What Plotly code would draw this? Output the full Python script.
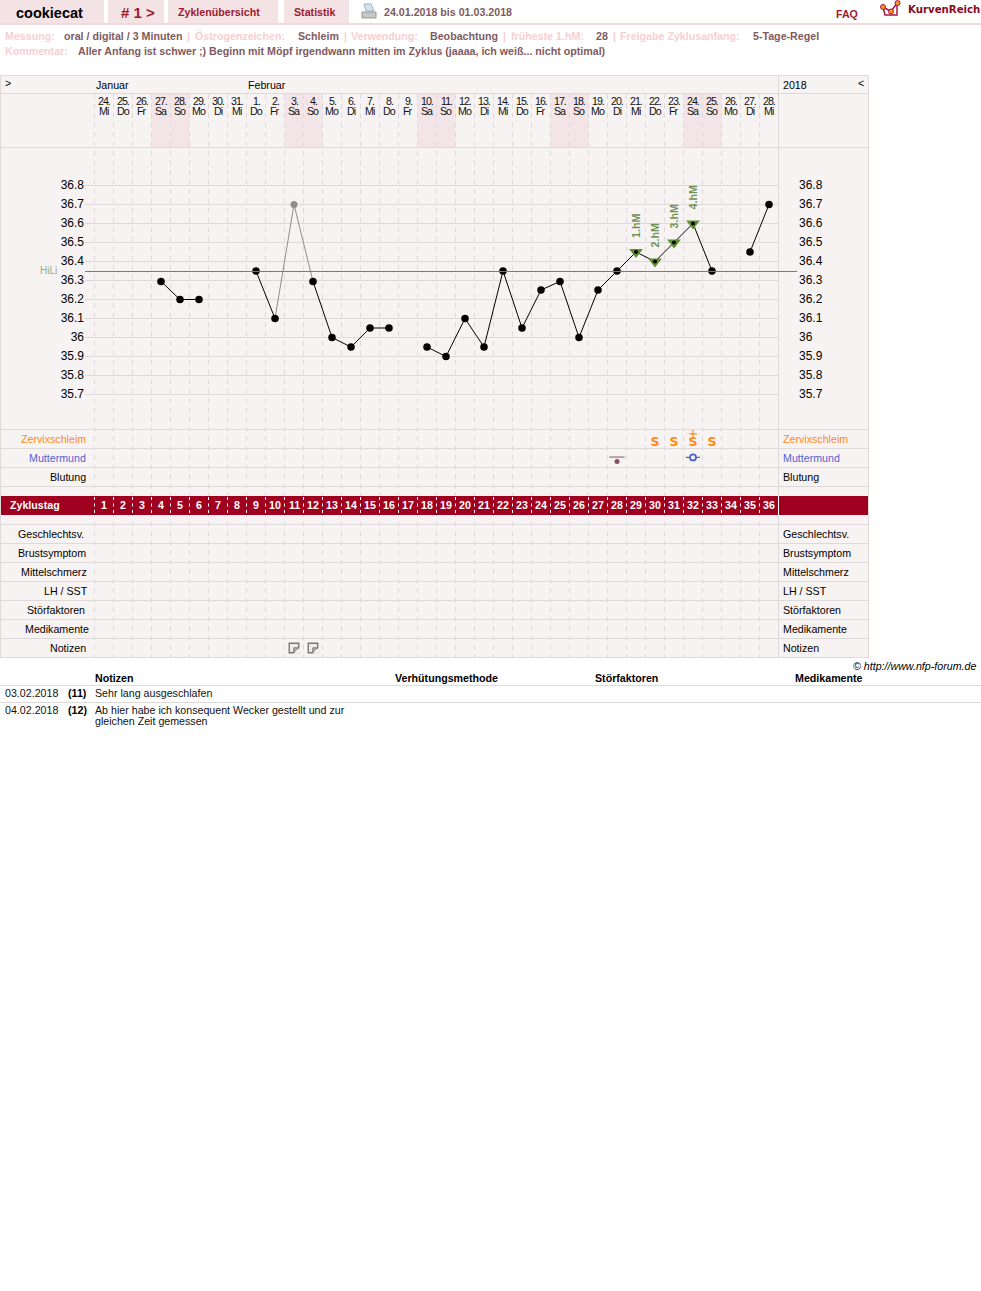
import plotly.graph_objects as go

W, H = 981, 1291
FONT = "Liberation Sans"
BASE = 10.67

# ---------- data ----------
date_labels = ["24.","25.","26.","27.","28.","29.","30.","31.","1.","2.","3.","4.","5.","6.","7.","8.","9.","10.",
               "11.","12.","13.","14.","15.","16.","17.","18.","19.","20.","21.","22.","23.","24.","25.","26.","27.","28."]
weekday_labels = ["Mi","Do","Fr","Sa","So","Mo","Di","Mi","Do","Fr","Sa","So","Mo","Di","Mi","Do","Fr","Sa",
                  "So","Mo","Di","Mi","Do","Fr","Sa","So","Mo","Di","Mi","Do","Fr","Sa","So","Mo","Di","Mi"]
cycle_days = list(range(1, 37))
temperature = [None,None,None,36.295,36.2,36.2,None,None,36.35,36.1,None,36.295,36.0,35.95,36.05,36.05,None,35.95,
               35.9,36.1,35.95,36.35,36.05,36.25,36.295,36.0,36.25,36.35,36.45,36.4,36.5,36.6,36.35,None,36.45,36.7]
excluded_days = [10, 11, 12]
excluded_temp = [36.1, 36.7, 36.295]
coverline = 36.3474
hm_days = [29, 30, 31, 32]
hm_temp = [36.45, 36.4, 36.5, 36.6]
hm_labels = ["1.hM", "2.hM", "3.hM", "4.hM"]
temp_ticks = [36.8,36.7,36.6,36.5,36.4,36.3,36.2,36.1,36.0,35.9,35.8,35.7]
temp_tick_labels = ["36.8","36.7","36.6","36.5","36.4","36.3","36.2","36.1","36","35.9","35.8","35.7"]
mucus_days = [30, 31, 32, 33]
mucus_labels = ["S", "S", "S", "S"]
mucus_plus_days = [32]
cervix_low_days = [28]
cervix_open_days = [32]
note_days = [11, 12]
upper_rows = ["Zervixschleim", "Muttermund", "Blutung"]
lower_rows = ["Geschlechtsv.", "Brustsymptom", "Mittelschmerz", "LH / SST", "Störfaktoren", "Medikamente", "Notizen"]

C_PANEL = "#f8f3f3"; C_LINE = "#dedada"; C_WE = "#f3e5e7"; C_RED = "#a00020"; C_TAB = "#f3e3e5"
C_DARK = "#9f1a2e"; C_MUTE = "#7f5a60"; C_LIGHT = "#f7cfd2"; C_GREEN = "#64923a"; C_HM = "#6f9356"
C_OR = "#ff8a14"; C_BL = "#4f63cf"

px = lambda v: v / W
py = lambda v: 1 - v / H
PX_TOP, PX_BOTTOM = 148, 429.5
val = lambda p: 36.8 - (p - 185.5) / 190
X0, X1 = 85, 778.5

shapes, ann = [], []


def rect(x0, y0, x1, y1, color, layer="below"):
    shapes.append(dict(type="rect", xref="paper", yref="paper", x0=px(x0), x1=px(x1), y0=py(y0), y1=py(y1),
                       fillcolor=color, line_width=0, layer=layer))


def hline(y, x0, x1, color=C_LINE, width=1, layer="below"):
    shapes.append(dict(type="line", xref="paper", yref="paper", x0=px(x0), x1=px(x1), y0=py(y), y1=py(y),
                       line=dict(color=color, width=width), layer=layer))


def vline(x, y0, y1, color=C_LINE, width=1, layer="below"):
    shapes.append(dict(type="line", xref="paper", yref="paper", x0=px(x), x1=px(x), y0=py(y0), y1=py(y1),
                       line=dict(color=color, width=width), layer=layer))


def path(points, color, width=1, fill=None, closed=False):
    d = "M" + " L".join(f"{px(a):.5f},{py(b):.5f}" for a, b in points) + (" Z" if closed else "")
    shapes.append(dict(type="path", xref="paper", yref="paper", path=d, layer="above",
                       line=dict(color=color, width=width), fillcolor=fill or "rgba(0,0,0,0)"))


def text(x, y, s, size=BASE, color="#000", bold=False, anchor="left", family=FONT, italic=False):
    if bold:
        s = f"<b>{s}</b>"
    if italic:
        s = f"<i>{s}</i>"
    ann.append(dict(xref="paper", yref="paper", x=px(x), y=py(y), text=s, showarrow=False, xanchor=anchor,
                    yanchor="middle", font=dict(family=family, size=size, color=color), borderpad=0, borderwidth=0))


# ---------- header ----------
for a, b in [(0, 104), (108, 164), (168, 278), (284, 349)]:
    rect(a, 0, b, 23, C_TAB)
rect(0, 23, W, 25, "#f3d9dc")
text(49.5, 13, "cookiecat", 14.5, "#000", True, "center")
text(138, 12.5, "# 1 &gt;", 15, C_DARK, True, "center")
text(218.5, 12.5, "Zyklenübersicht", BASE, C_DARK, True, "center")
text(314.5, 12.5, "Statistik", BASE, C_DARK, True, "center")
text(384, 12.5, "24.01.2018 bis 01.03.2018", BASE, C_MUTE, True)
text(836, 14, "FAQ", BASE, C_DARK, True)
text(908, 10, "KurvenReich", 10.2, "#8a0a1c", True, family="DejaVu Sans")

# printer icon
path([(364, 4), (371, 4), (374, 11), (366, 11)], "#a3b0bb", 1, "#d5e4ee", True)
path([(362, 12), (376, 12), (376, 18), (362, 18)], "#999999", 1, "#c6c6c6", True)
# logo
path([(883, 7), (885, 15), (897, 15), (897, 4)], "#a8144c", 1.5)
path([(883, 7), (891, 11.5), (897, 3)], "#a8144c", 1.5)
for cx, cy in [(883, 7), (891, 11.5), (897.5, 3)]:
    shapes.append(dict(type="circle", xref="paper", yref="paper", x0=px(cx - 2.5), x1=px(cx + 2.5),
                       y0=py(cy - 2.5), y1=py(cy + 2.5), fillcolor="#f59a1a", line=dict(color="#a8144c", width=1),
                       layer="above"))

for x, s, c in [(5, "Messung:", C_LIGHT), (64, "oral / digital / 3 Minuten", C_MUTE), (187, "|", C_LIGHT),
                (195, "Östrogenzeichen:", C_LIGHT), (298, "Schleim", C_MUTE), (344, "|", C_LIGHT),
                (351, "Verwendung:", C_LIGHT), (430, "Beobachtung", C_MUTE), (503, "|", C_LIGHT),
                (511, "früheste 1.hM:", C_LIGHT), (596, "28", C_MUTE), (613, "|", C_LIGHT),
                (620, "Freigabe Zyklusanfang:", C_LIGHT), (753, "5-Tage-Regel", C_MUTE)]:
    text(x, 36, s, BASE, c, True)
text(5, 51, "Kommentar:", BASE, C_LIGHT, True)
text(78, 51, "Aller Anfang ist schwer ;) Beginn mit Möpf irgendwann mitten im Zyklus (jaaaa, ich weiß... nicht optimal)",
     BASE, C_MUTE, True)

# ---------- panel ----------
rect(0.5, 75.5, 868.5, 657.5, C_PANEL)
for d, w in zip(cycle_days, weekday_labels):
    if w in ("Sa", "So"):
        shapes.append(dict(type="rect", xref="x", yref="paper", x0=d - .5, x1=d + .5, y0=py(94), y1=py(148),
                           fillcolor=C_WE, line_width=0, layer="below"))
for y in [75.5, 93.5, 147.5, 429.5, 448.5, 467.5, 486.5, 524.5, 543.5, 562.5, 581.5, 600.5, 619.5, 638.5, 657.5]:
    hline(y, 0, 868.5)
vline(0.5, 75.5, 657.5)
vline(868.5, 75.5, 657.5)
vline(778.5, 75.5, 657.5)
for d in cycle_days[:-1] + [0]:
    shapes.append(dict(type="line", xref="x", yref="paper", x0=d + .5, x1=d + .5, y0=py(94), y1=py(657),
                       line=dict(color=C_LINE, width=1, dash="5px,4.5px"), layer="below"))
rect(1, 496, 868, 515, C_RED, "above")
for d in cycle_days[:-1] + [0]:
    shapes.append(dict(type="line", xref="x", yref="paper", x0=d + .5, x1=d + .5, y0=py(497), y1=py(515),
                       line=dict(color="#ffffff", width=1, dash="3px,3.5px"), layer="above"))
vline(778.5, 496, 515, "#ffffff", 1, "above")
# coverline
shapes.append(dict(type="line", xref="paper", yref="y", x0=px(85), x1=px(797), y0=coverline, y1=coverline,
                   line=dict(color=C_GREEN, width=1), layer="above"))

text(96, 85, "Januar", BASE)
text(248, 85, "Februar", BASE)
text(783, 85, "2018", BASE)
text(5, 83, "&gt;", BASE)
text(858, 83, "&lt;", BASE)
text(40, 270.5, "HiLi", 10, "#8fae7c")

for d, a, b in zip(cycle_days, date_labels, weekday_labels):
    for y, s in ((101, a), (111, b)):
        ann.append(dict(xref="x", yref="paper", x=d, y=py(y), xshift=0,
                        text=f'<span style="letter-spacing:-1px">{s}</span>', showarrow=False, xanchor="center",
                        yanchor="middle", font=dict(family=FONT, size=BASE, color="#111"), borderpad=0))
    ann.append(dict(xref="x", yref="paper", x=d, y=py(505), text=f"<b>{d}</b>", showarrow=False, xanchor="center",
                    yanchor="middle", font=dict(family=FONT, size=BASE, color="#fff"), borderpad=0))

text(10, 505, "Zyklustag", BASE, "#fff", True)
for name, y, xr, c in zip(upper_rows, [439, 458, 477], [85.5, 86, 86], [C_OR, C_BL, "#000"]):
    text(xr, y, name, BASE, c, anchor="right")
    text(783, y, name, BASE, c)
for name, y, xr in zip(lower_rows, [534, 553, 572, 591, 610, 629, 648], [84, 86, 87, 88, 85, 89, 86]):
    text(xr, y, name, BASE, "#000", anchor="right")
    text(783, y, name, BASE, "#000")

for d, y, lab in zip(hm_days, hm_temp, hm_labels):
    ann.append(dict(xref="x", yref="y", x=d, y=y, yshift=26, xshift=0, text=f"<b>{lab}</b>", textangle=-90,
                    showarrow=False, font=dict(family=FONT, size=BASE, color=C_HM), xanchor="center",
                    yanchor="middle", borderpad=0))

# ---------- table ----------
for x, s in [(95, "Notizen"), (395, "Verhütungsmethode"), (595, "Störfaktoren"), (795, "Medikamente")]:
    text(x, 678, s, BASE, "#000", True)
hline(685.5, 0, W)
hline(702.5, 0, W)
text(976, 665.5, "© http://www.nfp-forum.de", BASE, "#000", anchor="right", italic=True)
text(5, 693, "03.02.2018", BASE, "#111")
text(68, 693, "(11)", BASE, "#000", True)
text(95, 693, "Sehr lang ausgeschlafen", BASE, "#111")
text(5, 710, "04.02.2018", BASE, "#111")
text(68, 710, "(12)", BASE, "#000", True)
text(95, 710, "Ab hier habe ich konsequent Wecker gestellt und zur", BASE, "#111")
text(95, 721, "gleichen Zeit gemessen", BASE, "#111")

# ---------- traces ----------
fig = go.Figure()
fig.add_trace(go.Scatter(x=excluded_days, y=excluded_temp, mode="lines", line=dict(color="#8e8e8e", width=1),
                         hoverinfo="skip"))
fig.add_trace(go.Scatter(x=cycle_days, y=temperature, mode="lines", connectgaps=False,
                         line=dict(color="#000", width=1), hoverinfo="skip"))
fig.add_trace(go.Scatter(x=hm_days, y=hm_temp, mode="markers", hoverinfo="skip",
                         marker=dict(symbol="triangle-down", size=12, color="#5f9030", line_width=0)))
sizes = [4 if d in hm_days else 7.5 for d in cycle_days]
fig.add_trace(go.Scatter(x=cycle_days, y=temperature, mode="markers", hoverinfo="skip",
                         marker=dict(color="#000", size=sizes, opacity=1, line_width=0)))
fig.add_trace(go.Scatter(x=excluded_days[1:2], y=excluded_temp[1:2], mode="markers", hoverinfo="skip",
                         marker=dict(color="#8e8e8e", size=7, line_width=0)))
# right-hand temperature axis carrier
fig.add_trace(go.Scatter(x=[1], y=[36.8], yaxis="y2", mode="markers", marker=dict(opacity=0), hoverinfo="skip"))

# upper rows: row axis, one unit per row (0 = top edge)
fig.add_trace(go.Scatter(x=mucus_days, y=[0.72] * len(mucus_days), yaxis="y3", mode="text", text=mucus_labels,
                         textposition="middle center", hoverinfo="skip",
                         textfont=dict(family="DejaVu Sans", size=12.5, color=C_OR, weight="bold")))
fig.add_trace(go.Scatter(x=mucus_plus_days, y=[0.23], yaxis="y3", mode="markers", hoverinfo="skip",
                         marker=dict(symbol="cross-thin", size=5.5, line=dict(color=C_OR, width=1.2))))
fig.add_trace(go.Scatter(x=cervix_low_days, y=[1.45], yaxis="y3", mode="markers", hoverinfo="skip",
                         marker=dict(symbol="line-ew", size=11, line=dict(color="#85545a", width=1))))
fig.add_trace(go.Scatter(x=cervix_low_days, y=[1.68], yaxis="y3", mode="markers", hoverinfo="skip",
                         marker=dict(size=5, color="#85545a", line_width=0)))
fig.add_trace(go.Scatter(x=cervix_open_days, y=[1.47], yaxis="y3", mode="markers", hoverinfo="skip",
                         marker=dict(symbol="line-ew", size=10, line=dict(color=C_BL, width=1.2))))
fig.add_trace(go.Scatter(x=cervix_open_days, y=[1.47], yaxis="y3", mode="markers", hoverinfo="skip",
                         marker=dict(size=6, color="#f8f3f3", line=dict(color=C_BL, width=1.8))))

# lower rows: note icons with a folded lower-right corner
fig.add_trace(go.Scatter(x=note_days, y=[6.5] * len(note_days), yaxis="y4", mode="markers", hoverinfo="skip",
                         marker=dict(symbol="square", size=9.5, color="#ececec", line=dict(color="#777", width=1.4))))
fig.add_trace(go.Scatter(x=[d + .19 for d in note_days], y=[6.69] * len(note_days), yaxis="y4", mode="markers",
                         hoverinfo="skip", marker=dict(symbol="triangle-se", size=7, color="#f8f3f3", line_width=0)))
fig.add_trace(go.Scatter(x=[d + .07 for d in note_days], y=[6.57] * len(note_days), yaxis="y4", mode="markers",
                         hoverinfo="skip",
                         marker=dict(symbol="triangle-nw", size=5, color="#bdbdbd", line=dict(color="#777", width=1))))

tick_font = dict(family=FONT, size=12, color="#000")
temp_range = [val(PX_BOTTOM), val(PX_TOP)]
fig.update_layout(
    width=W, height=H, autosize=False, margin=dict(l=0, r=0, t=0, b=0, pad=0), showlegend=False,
    paper_bgcolor="#fff", plot_bgcolor="rgba(0,0,0,0)", shapes=shapes, annotations=ann, hovermode=False,
    xaxis=dict(domain=[px(X0), px(X1)], range=[0, 36.5], visible=False, fixedrange=True),
    yaxis=dict(domain=[py(PX_BOTTOM), py(PX_TOP)], range=temp_range, tickmode="array", tickvals=temp_ticks,
               ticktext=temp_tick_labels, tickfont=tick_font, showgrid=True, gridcolor=C_LINE, gridwidth=1,
               zeroline=False, showline=False, ticks="", fixedrange=True, anchor="x", ticklabelshift=-1),
    yaxis2=dict(overlaying="y", side="right", anchor="free", position=px(798), range=temp_range, tickmode="array",
                tickvals=temp_ticks, ticktext=temp_tick_labels, tickfont=tick_font, showgrid=False, zeroline=False,
                showline=False, ticks="", fixedrange=True, ticklabelshift=-1),
    yaxis3=dict(domain=[py(486.5), py(429.5)], range=[3, 0], visible=False, fixedrange=True, anchor="x"),
    yaxis4=dict(domain=[py(657.5), py(524.5)], range=[7, 0], visible=False, fixedrange=True, anchor="x"),
)
fig.write_html("out.html", post_script="document.body.style.margin='0';", config=dict(displayModeBar=False))
